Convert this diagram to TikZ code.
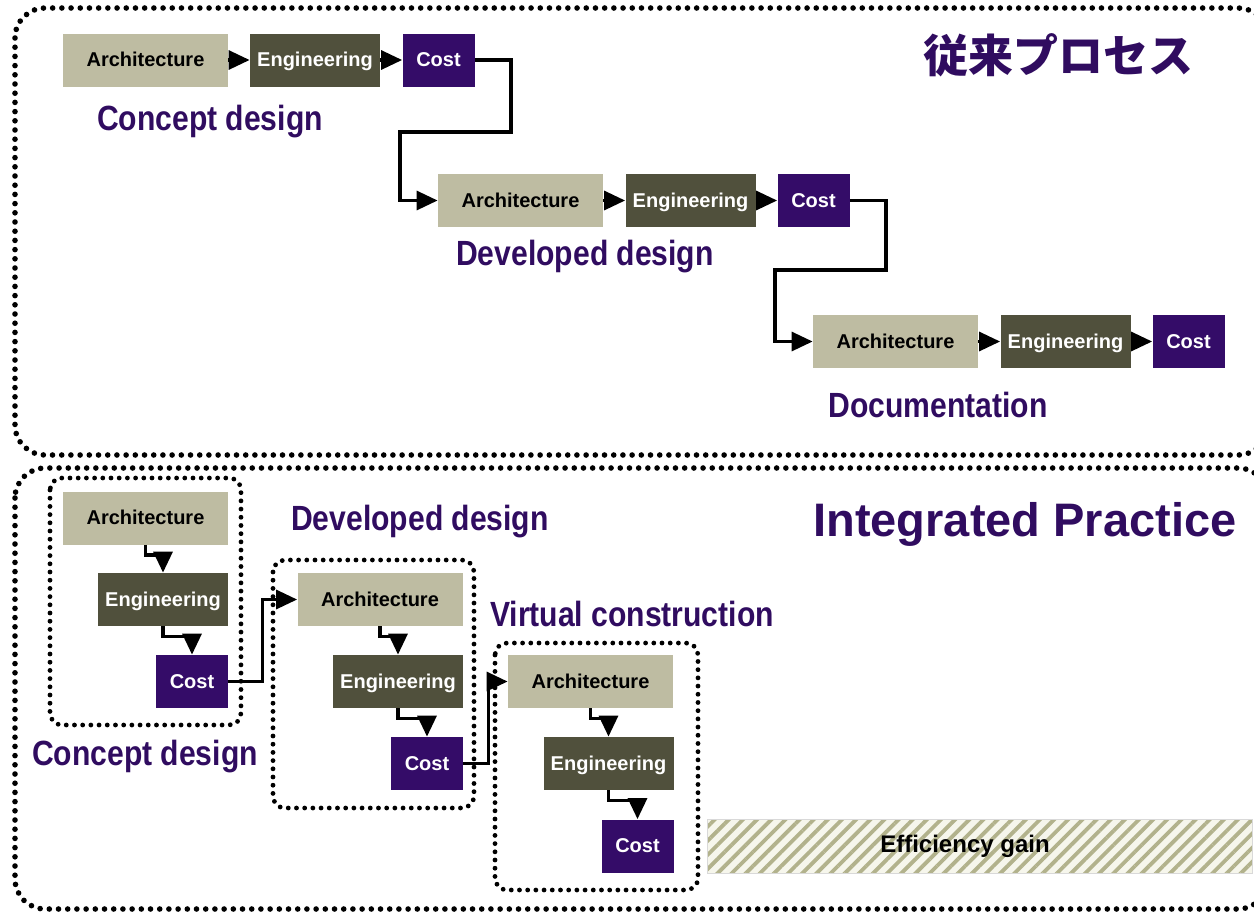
\documentclass[tikz,border=0pt]{standalone}
\usepackage{fontspec}
\setmainfont{Liberation Sans}
\newfontfamily\headfont{Liberation Sans}[FakeStretch=0.86]
\newfontfamily\cjk{Noto Sans CJK JP}
\usetikzlibrary{arrows.meta,patterns.meta}
\definecolor{archc}{RGB}{190,188,162}
\definecolor{engc}{RGB}{80,80,60}
\definecolor{costc}{RGB}{52,12,104}
\definecolor{titlec}{RGB}{48,12,96}
\definecolor{hatchc}{RGB}{178,178,140}
\definecolor{creamc}{RGB}{246,246,236}
\tikzset{
  font={\fontsize{10pt}{12pt}\selectfont\bfseries}}

\begin{document}
\begin{tikzpicture}[x=0.5pt,y=-0.5pt,
  box/.style={inner sep=0pt,minimum height=26.5pt,text height=0.72em,text depth=0.04em},
  archbox/.style={box,fill=archc,text=black,minimum width=82.5pt},
  engbox/.style={box,fill=engc,text=white,minimum width=65pt},
  costbox/.style={box,fill=costc,text=white,minimum width=36pt},
  stagetitle/.style={text=titlec,inner sep=0pt,font={\headfont\fontsize{17.5pt}{20pt}\selectfont\bfseries}},
  flow/.style={line width=1.6pt,-{Triangle[length=10.5pt,width=9.5pt]}},
  bigdots/.style={line width=2.8pt,line cap=round,dash pattern=on 0pt off 4.6pt,rounded corners=15pt},
  groupdots/.style={line width=2.4pt,line cap=round,dash pattern=on 0pt off 4.1pt,rounded corners=6pt}]
\useasboundingbox (0,0) rectangle (1254,912);
\clip (0,0) rectangle (1254,912);

% outer frames
\draw[bigdots] (15,8) rectangle (1268,455);
\draw[bigdots] (15,468) rectangle (1268,909);

% conventional process
\node[text=titlec,inner sep=0pt,font={\cjk\fontsize{22.5pt}{26pt}\selectfont\bfseries}] (jptitle) at (1058,55) {従来プロセス};

\node[archbox] (a1) at (145.5,60) {Architecture};
\node[engbox] (e1) at (315,60) {Engineering};
\node[costbox] (c1) at (438.5,60) {Cost};
\node[stagetitle] (t1) at (210,122) {Concept design};

\node[archbox] (a2) at (520.5,200.5) {Architecture};
\node[engbox] (e2) at (690.5,200.5) {Engineering};
\node[costbox] (c2) at (813.5,200.5) {Cost};
\node[stagetitle] (t2) at (585,257) {Developed design};

\node[archbox] (a3) at (895.5,341.5) {Architecture};
\node[engbox] (e3) at (1065.5,341.5) {Engineering};
\node[costbox] (c3) at (1188.5,341.5) {Cost};
\node[stagetitle] (t3) at (938,405) {Documentation};

\draw[flow] (a1) -- (e1);
\draw[flow] (e1) -- (c1);
\draw[flow] (a2) -- (e2);
\draw[flow] (e2) -- (c2);
\draw[flow] (a3) -- (e3);
\draw[flow] (e3) -- (c3);

\coordinate (k1) at (511,132);
\coordinate (k2) at (400,132);
\coordinate (k3) at (886,270);
\coordinate (k4) at (775,270);
\draw[flow] (c1.east) -| (k1) -- (k2) |- (a2.west);
\draw[flow] (c2.east) -| (k3) -- (k4) |- (a3.west);

% integrated practice
\node[text=titlec,inner sep=0pt,font={\fontsize{23.5pt}{28pt}\selectfont\bfseries}] (iptitle) at (1025,524) {Integrated Practice};

\draw[groupdots] (50,478) rectangle (241,725);
\draw[groupdots] (273,560) rectangle (474,808);
\draw[groupdots] (495,643) rectangle (698,890);

\node[archbox] (ba) at (145.5,518) {Architecture};
\node[engbox] (be) at (163,599.5) {Engineering};
\node[costbox] (bc) at (192,681.5) {Cost};
\node[stagetitle] (bt1) at (145,757) {Concept design};

\node[archbox] (da) at (380,599.5) {Architecture};
\node[engbox] (de) at (398,681.5) {Engineering};
\node[costbox] (dc) at (427,763.5) {Cost};
\node[stagetitle] (bt2) at (420,522) {Developed design};

\node[archbox] (va) at (590.5,681.5) {Architecture};
\node[engbox] (ve) at (608.5,763.5) {Engineering};
\node[costbox] (vc) at (637.5,846) {Cost};
\node[stagetitle] (bt3) at (632,614) {Virtual construction};

\draw[flow] (ba.south) -- ++(0,10) -| (be.north);
\draw[flow] (be.south) -- ++(0,10) -| (bc.north);
\draw[flow] (da.south) -- ++(0,10) -| (de.north);
\draw[flow] (de.south) -- ++(0,10) -| (dc.north);
\draw[flow] (va.south) -- ++(0,10) -| (ve.north);
\draw[flow] (ve.south) -- ++(0,10) -| (vc.north);
\draw[flow] (bc.east) -- ++(34,0) |- (da.west);
\draw[flow] (dc.east) -- ++(25,0) |- (va.west);

% efficiency bar
\fill[creamc] (707,819) rectangle (1252,873);
\fill[pattern={Lines[angle=45,distance=5pt,line width=1.9pt]},pattern color=hatchc] (707,819) rectangle (1252,873);
\draw[black!15,line width=0.5pt] (707,819) rectangle (1252,873);
\node[font={\fontsize{12pt}{14pt}\selectfont\bfseries}] (gain) at (965,846) {Efficiency gain};
\end{tikzpicture}
\end{document}
